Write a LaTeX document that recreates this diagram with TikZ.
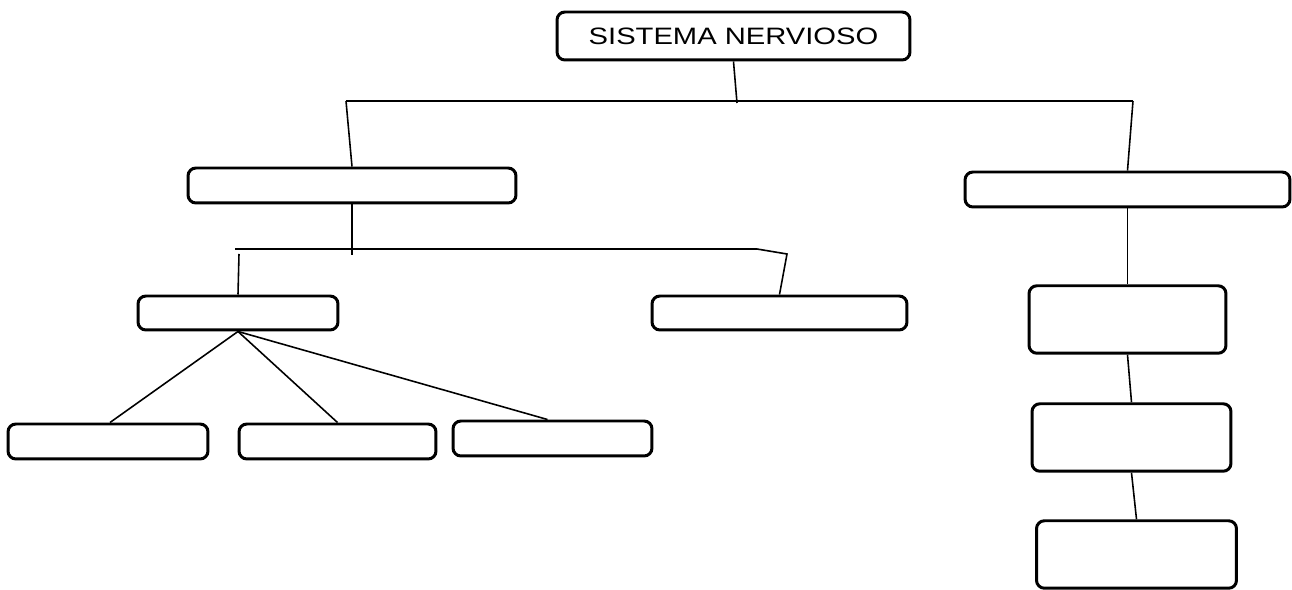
\documentclass[tikz,border=0pt]{standalone}
\usepackage{fontspec}
\setmainfont{Liberation Sans}
\newfontfamily\anchafont[FakeStretch=1.23]{Liberation Sans}
\usetikzlibrary{positioning}
\tikzstyle{caja} = [draw, rectangle, rounded corners=4.5pt, line width=1.7pt, inner sep=0pt, minimum height=0.7cm]
\tikzstyle{cajaalta} = [caja, minimum height=1.35cm, minimum width=3.98cm]
\tikzstyle{rama} = [line width=0.9pt]

\begin{document}
\begin{tikzpicture}[x=0.02cm, y=-0.02cm]
    \useasboundingbox (0,0) rectangle (1292,590);
    % nivel 0
    \node [caja, minimum width=7.06cm, minimum height=0.96cm, font=\anchafont\fontsize{13.5}{16}\selectfont] (sistema) at (733.5,36) {SISTEMA NERVIOSO};
    % nivel 1
    \node [caja, minimum width=6.56cm] (central) at (352,185.5) {};
    \node [caja, minimum width=6.5cm] (periferico) at (1127.5,189.5) {};
    % nivel 2
    \node [caja, minimum width=4cm, minimum height=0.68cm] (encefalo) at (238,313) {};
    \node [caja, minimum width=5.1cm, minimum height=0.68cm] (medula) at (779.5,313) {};
    \node [caja, minimum width=4cm] (cerebro) at (108,441.5) {};
    \node [caja, minimum width=3.94cm] (cerebelo) at (337.5,441.5) {};
    \node [caja, minimum width=3.98cm] (bulbo) at (552.5,438.5) {};
    % columna derecha
    \node [cajaalta, minimum width=3.94cm] (somatico) at (1127.5,319.5) {};
    \node [cajaalta] (autonomo) at (1131.5,437.5) {};
    \node [cajaalta, minimum width=4cm] (nervios) at (1136.5,554.5) {};

    \coordinate (r0) at (737,103);
    \coordinate (r0izq) at (346,101);
    \coordinate (r0der) at (1133,101);
    \coordinate (r1) at (352,255);
    \coordinate (r1izq) at (235,249);
    \coordinate (r1der) at (757,249);
    \coordinate (r1gancho) at (787,254);
    \coordinate (r1baja) at (239,254);

    \draw [rama] (sistema.south) -- (r0);
    \draw [rama] (r0izq) -- (r0der);
    \draw [rama] (r0izq) -- (central.north);
    \draw [rama] (r0der) -- (periferico.north);
    \draw [rama] (central.south) -- (r1);
    \draw [rama] (r1izq) -- (r1der) -- (r1gancho) -- (medula.north);
    \draw [rama] (r1baja) -- (encefalo.north);
    \draw [rama] (encefalo.south) -- ([xshift=0.04cm]cerebro.north);
    \draw [rama] (encefalo.south) -- (cerebelo.north);
    \draw [rama] (encefalo.south) -- ([xshift=-0.1cm]bulbo.north);
    \draw [rama] (periferico.south) -- (somatico.north);
    \draw [rama] (somatico.south) -- (autonomo.north);
    \draw [rama] (autonomo.south) -- (nervios.north);
\end{tikzpicture}
\end{document}
